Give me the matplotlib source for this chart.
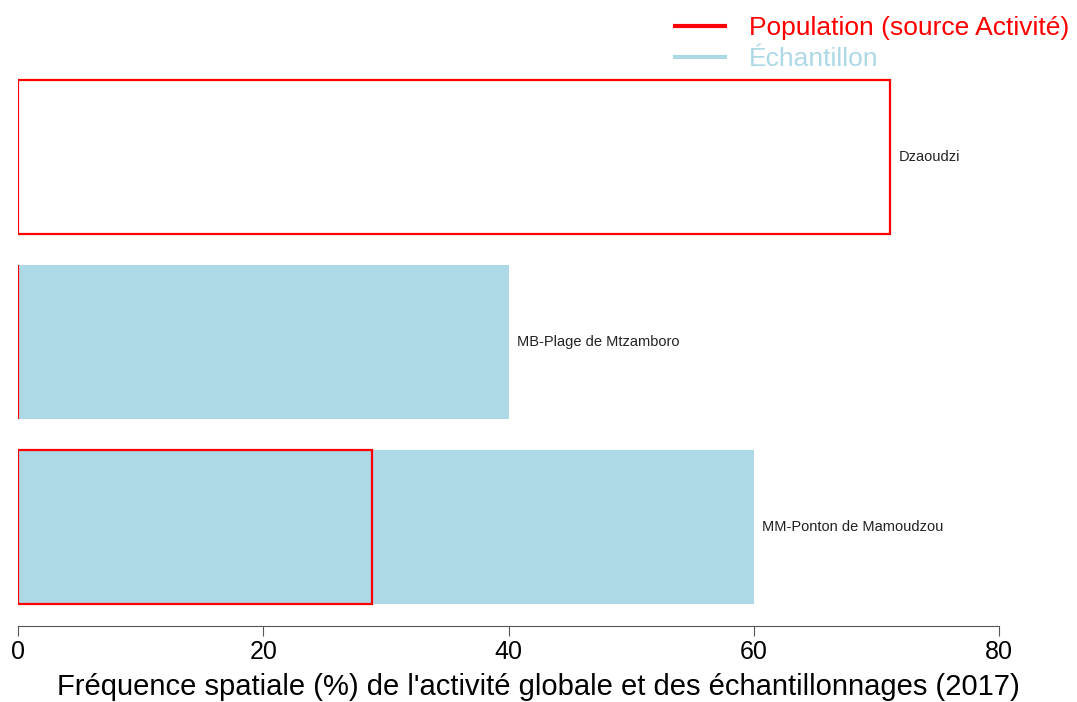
import matplotlib.pyplot as plt
from matplotlib.lines import Line2D

plt.rcParams['font.family'] = ['Liberation Sans', 'DejaVu Sans']

sites = ['MM-Ponton de Mamoudzou', 'MB-Plage de Mtzamboro', 'Dzaoudzi']
population = [28.9, 0.0, 71.1]
echantillon = [60.0, 40.0, 0.0]
xticks = [0, 20, 40, 60, 80]

red = '#FF0000'
blue = '#ADD8E6'

fig = plt.figure(figsize=(10.77, 7.02), dpi=100)
ax = fig.add_axes([18/1077, 1-626/702, (999-18)/1077, (626-64.5)/702])

ypos = list(range(len(sites)))
h = 0.833
ax.barh(ypos, echantillon, height=h, color=blue, edgecolor='none', zorder=1)
ax.barh(ypos, population, height=h, facecolor='none', edgecolor=red, linewidth=1.6, zorder=2)
for y, p, e, s in zip(ypos, population, echantillon, sites):
    ax.text(max(p, e) + 0.7, y, s, va='center', ha='left', fontsize=10.5, color='#222222')

ax.set_xlim(0, 80)
ax.set_ylim(-0.535, 2.5)
ax.set_xticks(xticks)
ax.set_yticks([])
for sp in ['top', 'right', 'left']:
    ax.spines[sp].set_visible(False)
ax.spines['bottom'].set_color('#555555')
ax.tick_params(axis='x', labelsize=18, length=7, color='#555555', pad=3)
ax.set_xlabel("Fréquence spatiale (%) de l'activité globale et des échantillonnages (2017)",
              fontsize=21)
ax.xaxis.set_label_coords((538.5 - 18) / 981, -0.084)

handles = [Line2D([], [], color=red, lw=3), Line2D([], [], color=blue, lw=3)]
leg = fig.legend(handles, ['Population (source Activité)', 'Échantillon'],
                 loc='upper right', bbox_to_anchor=(1.012, 1.007), frameon=False,
                 fontsize=19, handlelength=1.9, labelspacing=0.27, handletextpad=0.9,
                 borderpad=0.3)
for t, c in zip(leg.get_texts(), [red, blue]):
    t.set_color(c)

fig.savefig('out.png', dpi=100)
